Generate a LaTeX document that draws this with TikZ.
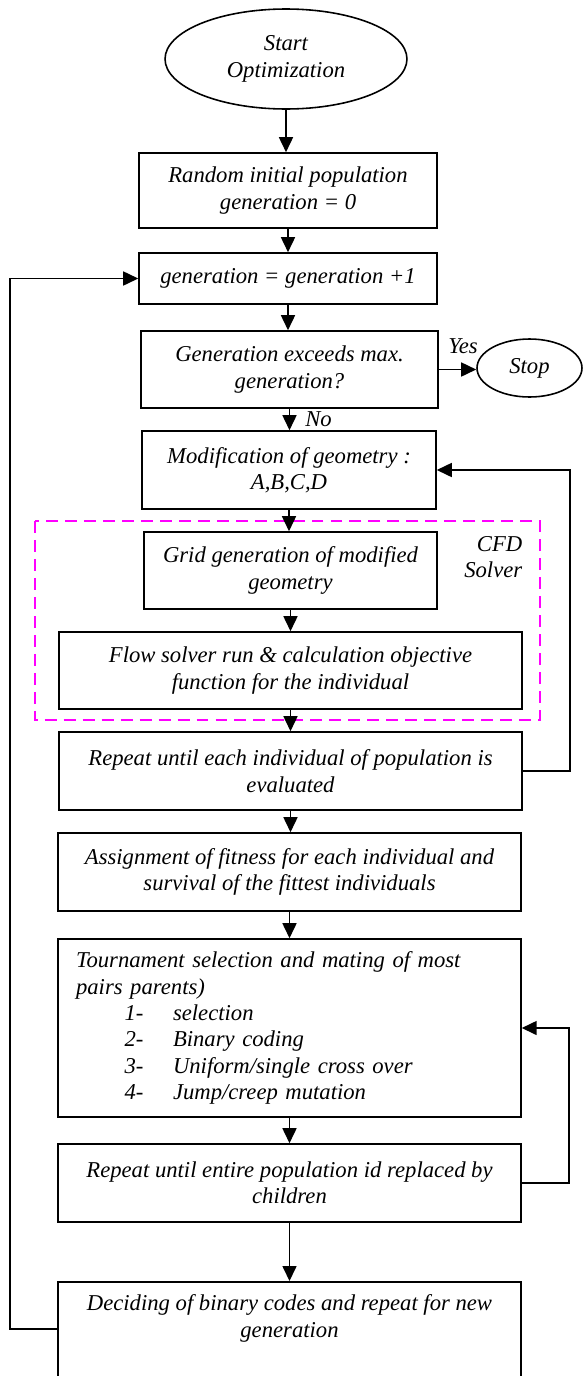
\documentclass[tikz,border=0pt]{standalone}
\usepackage{fontspec}
\setmainfont{Liberation Serif}
\usepackage{tikz}
\usetikzlibrary{arrows.meta,shapes.geometric}
\definecolor{cfdmagenta}{RGB}{255,0,255}

\begin{document}
\begin{tikzpicture}[x=0.02cm, y=-0.02cm, >={Triangle[length=0.3cm,width=0.28cm]}, line width=0.9pt,
    txt/.style={font=\itshape\fontsize{12.9}{15}\selectfont},
    proc/.style={txt, draw, rectangle, align=center, inner sep=0pt},
    term/.style={txt, draw, ellipse, align=center, inner sep=0pt},
    flow/.style={->}]
    \useasboundingbox (0,0) rectangle (583,1376);
    \clip (0,0) rectangle (583,1376);
    % inicio y fin
    \node[term, minimum width=4.84cm, minimum height=2cm] (start) at (286,59) {Start\\Optimization};
    \node[term, minimum width=2.1cm, minimum height=1.16cm] (stop) at (529.5,368) {Stop};
    % bloque superior
    \node[proc, minimum width=5.96cm, minimum height=1.5cm] (init) at (288,190.5) {Random initial population\\generation = 0};
    \node[proc, minimum width=5.96cm, minimum height=1.02cm] (gen) at (288,278.5) {generation = generation +1};
    \node[proc, minimum width=5.94cm, minimum height=1.54cm] (check) at (289.5,369.5) {Generation exceeds max.\\generation?};
    \node[proc, minimum width=5.88cm, minimum height=1.56cm] (modif) at (289,470) {Modification of geometry :\\A,B,C,D};
    % CFD solver
    \node[proc, minimum width=5.86cm, minimum height=1.54cm] (grid) at (290.5,570.5) {Grid generation of modified\\geometry};
    \node[proc, minimum width=9.26cm, minimum height=1.54cm] (solver) at (290.5,670.5) {Flow solver run \& calculation objective\\function for the individual};
    \draw[cfdmagenta, dash pattern=on 6.8pt off 4pt] (35,521) rectangle (540,720);
    \node[txt, align=right, anchor=east, inner sep=0pt] (cfd) at (523,557) {CFD\\Solver};
    % bloque GA
    \node[proc, minimum width=9.26cm, minimum height=1.56cm] (evalall) at (290.5,771) {Repeat until each individual of population is\\evaluated};
    \node[proc, minimum width=9.26cm, minimum height=1.56cm] (fit) at (289.5,872) {Assignment of fitness for each individual and\\survival of the fittest individuals};
    \node[proc, align=left, text width=8.54cm, inner xsep=0.36cm, minimum height=3.56cm] (tour) at (289.5,1028) {Tournament selection and mating of most\\pairs parents)\\
        \hspace*{0.97cm}\makebox[0.97cm][l]{1-}selection\\
        \hspace*{0.97cm}\makebox[0.97cm][l]{2-}Binary coding\\
        \hspace*{0.97cm}\makebox[0.97cm][l]{3-}Uniform/single cross over\\
        \hspace*{0.97cm}\makebox[0.97cm][l]{4-}Jump/creep mutation};
    \node[proc, minimum width=9.26cm, minimum height=1.56cm] (replace) at (289.5,1183) {Repeat until entire population id replaced by\\children};
    \node[proc, minimum width=9.26cm, anchor=north, inner ysep=0.26cm, text depth=2.4cm] (decide) at (289.5,1281) {Deciding of binary codes and repeat for new\\generation};
    % flechas principales
    \draw[flow] (start.south) -- (start.south |- init.north);
    \draw[flow] (init.south) -- (init.south |- gen.north);
    \draw[flow] (gen.south) -- (gen.south |- check.north);
    \draw[flow] (check.east) -- (check.east -| stop.west);
    \node[txt, inner sep=0pt] (yes) at (463,346) {Yes};
    \draw[flow] (check.south) -- node[txt, right=0.3cm, inner sep=0pt] (no) {No} (check.south |- modif.north);
    \draw[flow] (modif.south) -- (modif.south |- grid.north);
    \draw[flow] (grid.south) -- (grid.south |- solver.north);
    \draw[flow] (grid.south |- solver.south) -- (grid.south |- evalall.north);
    \draw[flow] (evalall.south) -- (evalall.south |- fit.north);
    \draw[flow] (fit.south) -- (fit.south |- tour.north);
    \draw[flow] (tour.south) -- (tour.south |- replace.north);
    \draw[flow] (replace.south) -- (replace.south |- decide.north);
    % lazos
    \draw[flow] (evalall.east) -- ++(47,0) |- (modif.east);
    \draw[flow] (replace.east) -- ++(47,0) |- (tour.east);
    \draw[flow] ([yshift=-0.96cm]decide.north west) -- ++(-47,0) |- (gen.west);
\end{tikzpicture}
\end{document}
